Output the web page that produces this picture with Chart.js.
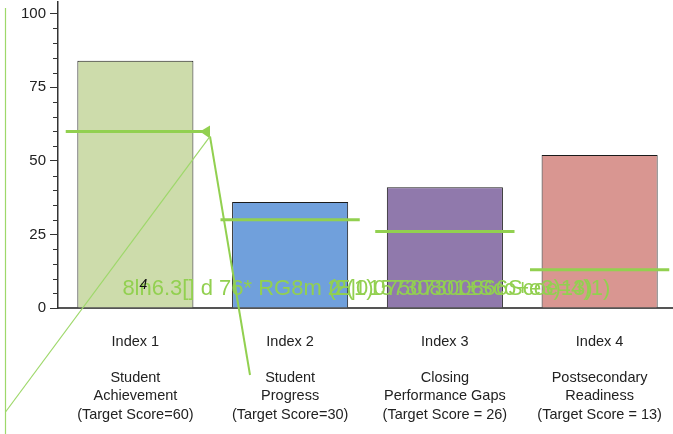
<!DOCTYPE html>
<html>
<head>
<meta charset="utf-8">
<script src="https://cdn.jsdelivr.net/npm/chart.js@4"></script>
<style>
    html, body { margin: 0; padding: 0; background: #fff; overflow: hidden; }
    #wrap { width: 673px; height: 434px; overflow: hidden; }
</style>
</head>
<body>
<div id="wrap"><canvas id="chart" width="677" height="434"></canvas></div>
<script>
const categories = [
    ["Index 1", "", "Student", "Achievement", "(Target Score=60)"],
    ["Index 2", "", "Student", "Progress", "(Target Score=30)"],
    ["Index 3", "", "Closing", "Performance Gaps", "(Target Score = 26)"],
    ["Index 4", "", "Postsecondary", "Readiness", "(Target Score = 13)"]
];
const scores = [84, 36, 41, 52];
const targets = [60, 30, 26, 13];
const barColors = ["#cddcab", "#70a0dc", "#9079ac", "#d99691"];
const majorTicks = [0, 25, 50, 75, 100];
const minorTicks = [5, 10, 15, 20, 30, 35, 40, 45, 55, 60, 65, 70, 80, 85, 90, 95];
// garbled overlay text seen in the source picture
const junkText = ["8ln6.3[] d 76* RG8m 2", "(E|015730801\u00b1Sco+e3)13)", "2(1)07507300866Scoe=4)1)"];

const green = "#92d050";

const extrasPlugin = {
    id: "extras",
    afterDatasetsDraw(chart) {
        const ctx = chart.ctx;
        const x = chart.scales.x;
        const y = chart.scales.y;
        const half = (x.getPixelForValue(1) - x.getPixelForValue(0)) * 0.45;

        // minor ticks
        ctx.save();
        ctx.strokeStyle = "#333";
        ctx.lineWidth = 1;
        minorTicks.forEach(v => {
            const py = Math.round(y.getPixelForValue(v)) + 0.5;
            ctx.beginPath();
            ctx.moveTo(y.right - 5, py);
            ctx.lineTo(y.right, py);
            ctx.stroke();
        });

        // target lines
        ctx.strokeStyle = green;
        ctx.lineWidth = 3;
        targets.forEach((t, i) => {
            const xc = x.getPixelForValue(i);
            const py = y.getPixelForValue(t);
            ctx.beginPath();
            ctx.moveTo(xc - half, py);
            ctx.lineTo(xc + half, py);
            ctx.stroke();
        });

        // arrow artefacts
        const ax = x.getPixelForValue(0) + half + 5;
        const ay = y.getPixelForValue(targets[0]);
        ctx.fillStyle = green;
        ctx.beginPath();
        ctx.moveTo(ax - 10, ay);
        ctx.lineTo(ax, ay - 6);
        ctx.lineTo(ax, ay + 7);
        ctx.closePath();
        ctx.fill();

        ctx.lineWidth = 2;
        ctx.beginPath();
        ctx.moveTo(ax, ay + 5);
        ctx.lineTo(250, 375);
        ctx.stroke();

        ctx.strokeStyle = "#9ed86a";
        ctx.lineWidth = 1.2;
        ctx.beginPath();
        ctx.moveTo(ax, ay + 5);
        ctx.lineTo(5.5, 412);
        ctx.stroke();
        ctx.beginPath();
        ctx.moveTo(5.5, 8);
        ctx.lineTo(5.5, 434);
        ctx.stroke();

        // garbled labels
        const base = y.getPixelForValue(4.5);
        const left = x.getPixelForValue(0) - 13;
        ctx.font = "22px 'Liberation Sans', Arial, sans-serif";
        ctx.fillStyle = green;
        ctx.textBaseline = "alphabetic";
        ctx.fillText(junkText[0], left, base);
        ctx.fillText(junkText[1], left + 206, base);
        ctx.fillText(junkText[2], left + 212, base);
        ctx.fillStyle = "#111";
        ctx.font = "italic 14px 'Liberation Sans', Arial, sans-serif";
        ctx.fillText("4", left + 17, base - 6);
        ctx.restore();
    }
};

new Chart(document.getElementById("chart"), {
    type: "bar",
    data: {
        labels: categories,
        datasets: [
            {
                data: scores,
                backgroundColor: barColors,
                borderColor: "#1a1a1a",
                borderWidth: 1,
                barPercentage: 0.75,
                categoryPercentage: 1
            }
        ]
    },
    options: {
        responsive: false,
        animation: false,
        layout: { padding: { top: 2, right: 0 } },
        plugins: {
            legend: { display: false },
            tooltip: { enabled: false }
        },
        scales: {
            x: {
                grid: { display: false, drawTicks: false },
                border: { color: "#555", width: 2 },
                ticks: {
                    color: "#222",
                    padding: 25,
                    maxRotation: 0,
                    autoSkip: false,
                    font: { family: "'Liberation Sans', Arial", size: 14.5, lineHeight: 1.25 }
                },
                afterFit: s => { s.height = 126; s.paddingLeft = 0; s.paddingRight = 0; }
            },
            y: {
                min: 0,
                max: 104,
                afterBuildTicks: s => { s.ticks = majorTicks.map(v => ({ value: v })); },
                grid: { drawOnChartArea: false, tickLength: 8, color: "#333" },
                border: { color: "#333", width: 1.5 },
                ticks: {
                    color: "#222",
                    padding: 4,
                    font: { family: "'Liberation Sans', Arial", size: 15 }
                },
                afterFit: s => { s.width = 58; s.paddingTop = 0; s.paddingBottom = 0; }
            }
        }
    },
    plugins: [extrasPlugin]
});
</script>
</body>
</html>
